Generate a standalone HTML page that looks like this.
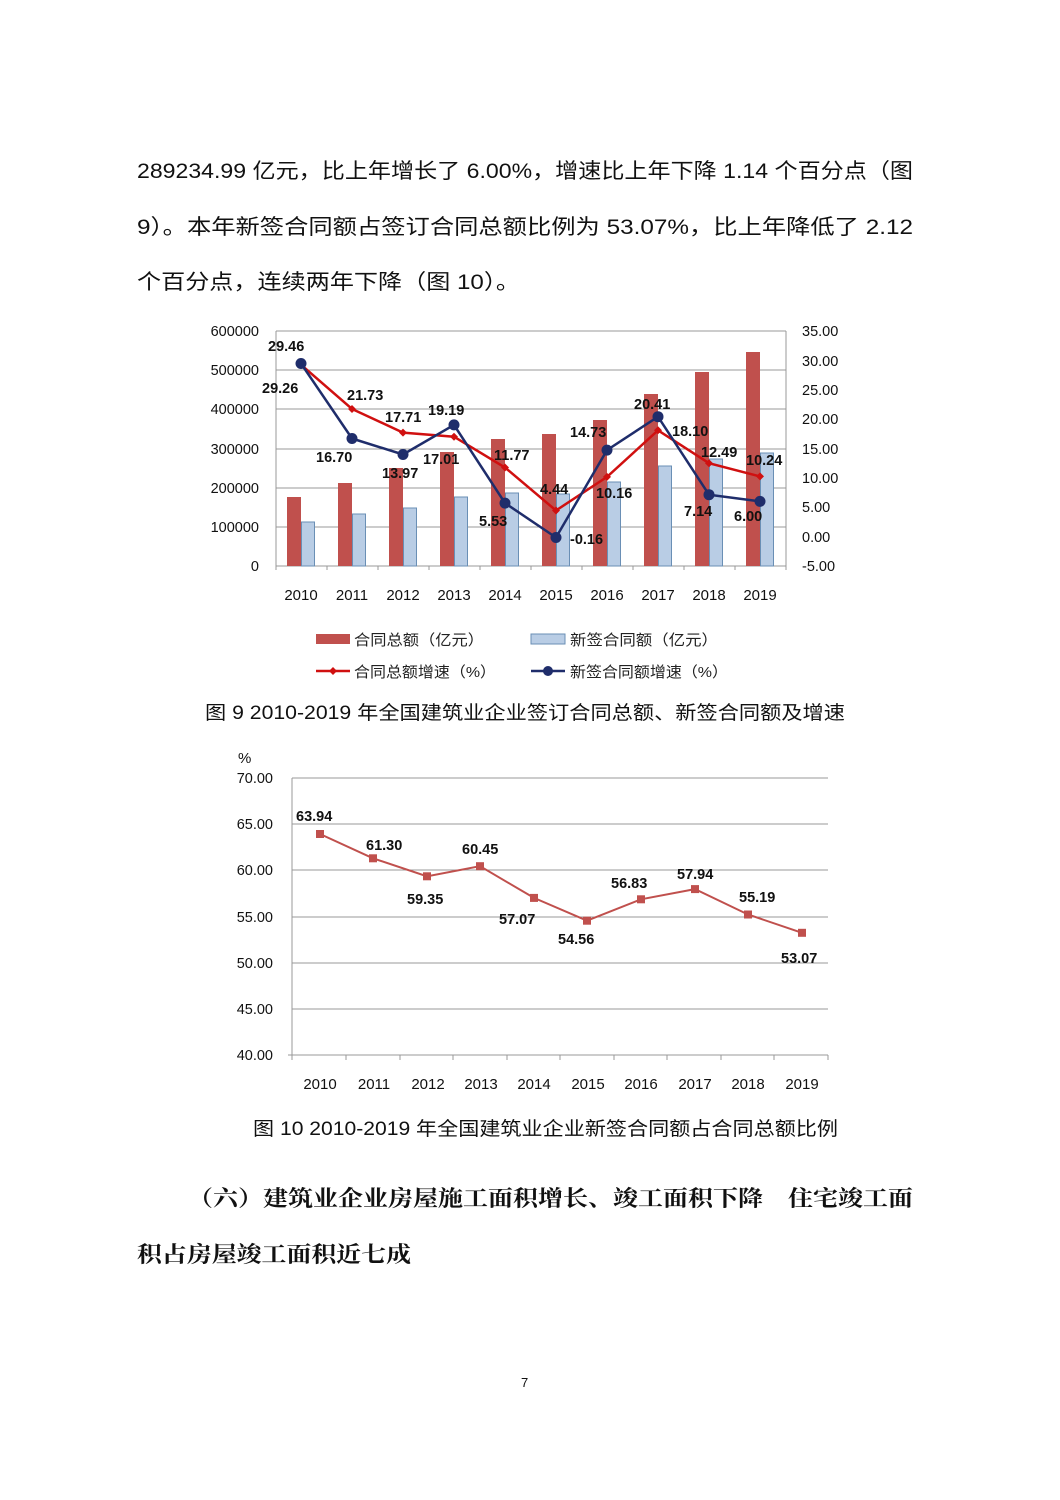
<!DOCTYPE html>
<html><head><meta charset="utf-8"><style>
body{margin:0;background:#fff;}
</style></head><body>
<div style="position:relative;width:1060px;height:1500px;overflow:hidden;">
<svg width="1060" height="1500" style="position:absolute;left:0;top:0" font-family="Liberation Sans, Noto Sans CJK SC, sans-serif">
<g font-size="21" fill="#111">
<text x="137" y="178" textLength="776" lengthAdjust="spacingAndGlyphs">289234.99 亿元，比上年增长了 6.00%，增速比上年下降 1.14 个百分点（图</text>
<text x="137" y="234" textLength="776" lengthAdjust="spacingAndGlyphs">9）。本年新签合同额占签订合同总额比例为 53.07%，比上年降低了 2.12</text>
<text x="137" y="289" textLength="383" lengthAdjust="spacingAndGlyphs">个百分点，连续两年下降（图 10）。</text>
</g>
<g font-size="22" font-weight="bold" fill="#111" font-family="Noto Serif CJK SC, Noto Sans CJK SC, serif">
<text x="188" y="1206" textLength="725" lengthAdjust="spacingAndGlyphs">（六）建筑业企业房屋施工面积增长、竣工面积下降　住宅竣工面</text>
<text x="137" y="1262" textLength="274" lengthAdjust="spacingAndGlyphs">积占房屋竣工面积近七成</text>
</g>
<text x="521" y="1387" font-size="13" fill="#111">7</text>
<g stroke="#999" stroke-width="1">
<line x1="276" y1="331" x2="786" y2="331"/><line x1="276" y1="370" x2="786" y2="370"/><line x1="276" y1="409" x2="786" y2="409"/><line x1="276" y1="449" x2="786" y2="449"/><line x1="276" y1="488" x2="786" y2="488"/><line x1="276" y1="527" x2="786" y2="527"/><line x1="276" y1="566" x2="786" y2="566"/>
<line x1="276" y1="331" x2="276" y2="570"/><line x1="786" y1="331" x2="786" y2="566"/>
</g>
<g font-size="14.5" fill="#111" text-anchor="end">
<text x="259" y="336">600000</text><text x="259" y="375">500000</text><text x="259" y="414">400000</text><text x="259" y="454">300000</text><text x="259" y="493">200000</text><text x="259" y="532">100000</text><text x="259" y="571">0</text>
</g>
<g font-size="14.5" fill="#111">
<text x="802" y="336">35.00</text><text x="802" y="366">30.00</text><text x="802" y="395">25.00</text><text x="802" y="424">20.00</text><text x="802" y="454">15.00</text><text x="802" y="483">10.00</text><text x="802" y="512">5.00</text><text x="802" y="542">0.00</text><text x="802" y="571">-5.00</text>
</g>
<g font-size="15" fill="#111" text-anchor="middle">
<text x="301" y="600">2010</text><text x="352" y="600">2011</text><text x="403" y="600">2012</text><text x="454" y="600">2013</text><text x="505" y="600">2014</text><text x="556" y="600">2015</text><text x="607" y="600">2016</text><text x="658" y="600">2017</text><text x="709" y="600">2018</text><text x="760" y="600">2019</text>
</g>
<g fill="#c0504d">
<rect x="287" y="497" width="14" height="69"/><rect x="338" y="483" width="14" height="83"/><rect x="389" y="468" width="14" height="98"/><rect x="440" y="452" width="14" height="114"/><rect x="491" y="439" width="14" height="127"/><rect x="542" y="434" width="14" height="132"/><rect x="593" y="420" width="14" height="146"/><rect x="644" y="394" width="14" height="172"/><rect x="695" y="372" width="14" height="194"/><rect x="746" y="352" width="14" height="214"/>
</g>
<g fill="#b9cde5" stroke="#6a8fb5" stroke-width="1">
<rect x="301.5" y="522" width="13" height="44"/><rect x="352.5" y="514" width="13" height="52"/><rect x="403.5" y="508" width="13" height="58"/><rect x="454.5" y="497" width="13" height="69"/><rect x="505.5" y="493" width="13" height="73"/><rect x="556.5" y="494" width="13" height="72"/><rect x="607.5" y="482" width="13" height="84"/><rect x="658.5" y="466" width="13" height="100"/><rect x="709.5" y="459" width="13" height="107"/><rect x="760.5" y="453" width="13" height="113"/>
</g>
<g stroke="#999"><line x1="327" y1="566" x2="327" y2="570"/><line x1="378" y1="566" x2="378" y2="570"/><line x1="429" y1="566" x2="429" y2="570"/><line x1="480" y1="566" x2="480" y2="570"/><line x1="531" y1="566" x2="531" y2="570"/><line x1="582" y1="566" x2="582" y2="570"/><line x1="633" y1="566" x2="633" y2="570"/><line x1="684" y1="566" x2="684" y2="570"/><line x1="735" y1="566" x2="735" y2="570"/><line x1="786" y1="566" x2="786" y2="570"/></g>
<polyline fill="none" stroke="#d01010" stroke-width="2.5" points="301,364.7 352,409 403,432.6 454,436.7 505,467.5 556,510.5 607,476.9 658,430.3 709,463.2 760,476.4"/>
<g fill="#d01010">
<path d="M301 360.7l4 4-4 4-4-4z"/><path d="M352 405l4 4-4 4-4-4z"/><path d="M403 428.6l4 4-4 4-4-4z"/><path d="M454 432.7l4 4-4 4-4-4z"/><path d="M505 463.5l4 4-4 4-4-4z"/><path d="M556 506.5l4 4-4 4-4-4z"/><path d="M607 472.9l4 4-4 4-4-4z"/><path d="M658 426.3l4 4-4 4-4-4z"/><path d="M709 459.2l4 4-4 4-4-4z"/><path d="M760 472.4l4 4-4 4-4-4z"/>
</g>
<polyline fill="none" stroke="#1f2d6b" stroke-width="2.5" points="301,363.5 352,438.5 403,454.5 454,424.9 505,503.1 556,537.5 607,450.1 658,416.7 709,494.7 760,501.4"/>
<g fill="#1f2d6b">
<circle cx="301" cy="363.5" r="5.5"/><circle cx="352" cy="438.5" r="5.5"/><circle cx="403" cy="454.5" r="5.5"/><circle cx="454" cy="424.9" r="5.5"/><circle cx="505" cy="503.1" r="5.5"/><circle cx="556" cy="537.5" r="5.5"/><circle cx="607" cy="450.1" r="5.5"/><circle cx="658" cy="416.7" r="5.5"/><circle cx="709" cy="494.7" r="5.5"/><circle cx="760" cy="501.4" r="5.5"/>
</g>
<g font-size="14.5" font-weight="bold" fill="#111">
<text x="268" y="351">29.46</text><text x="262" y="393">29.26</text><text x="347" y="400">21.73</text><text x="316" y="462">16.70</text><text x="385" y="422">17.71</text><text x="428" y="415">19.19</text><text x="382" y="478">13.97</text><text x="423" y="464">17.01</text><text x="494" y="460">11.77</text><text x="479" y="526">5.53</text><text x="540" y="494">4.44</text><text x="570" y="544">-0.16</text><text x="570" y="437">14.73</text><text x="596" y="498">10.16</text><text x="634" y="409">20.41</text><text x="672" y="436">18.10</text><text x="701" y="457">12.49</text><text x="746" y="465">10.24</text><text x="684" y="516">7.14</text><text x="734" y="521">6.00</text>
</g>
<g font-size="15" fill="#222">
<rect x="316" y="634" width="34" height="10" fill="#c0504d"/><text x="354" y="645" textLength="130" lengthAdjust="spacingAndGlyphs">合同总额（亿元）</text>
<rect x="531" y="634" width="34" height="10" fill="#b9cde5" stroke="#6a8fb5"/><text x="570" y="645" textLength="148" lengthAdjust="spacingAndGlyphs">新签合同额（亿元）</text>
<line x1="316" y1="671" x2="350" y2="671" stroke="#d01010" stroke-width="2.5"/><path d="M333 667l4 4-4 4-4-4z" fill="#d01010"/><text x="354" y="677" textLength="142" lengthAdjust="spacingAndGlyphs">合同总额增速（%）</text>
<line x1="531" y1="671" x2="565" y2="671" stroke="#1f2d6b" stroke-width="2.5"/><circle cx="548" cy="671" r="5" fill="#1f2d6b"/><text x="570" y="677" textLength="158" lengthAdjust="spacingAndGlyphs">新签合同额增速（%）</text>
</g>
<text x="205" y="719" font-size="19" fill="#111" textLength="640" lengthAdjust="spacingAndGlyphs">图 9  2010-2019 年全国建筑业企业签订合同总额、新签合同额及增速</text>
<text x="238" y="763" font-size="15" fill="#111">%</text>
<g stroke="#999"><line x1="292" y1="778" x2="828" y2="778"/><line x1="292" y1="824" x2="828" y2="824"/><line x1="292" y1="870" x2="828" y2="870"/><line x1="292" y1="917" x2="828" y2="917"/><line x1="292" y1="963" x2="828" y2="963"/><line x1="292" y1="1009" x2="828" y2="1009"/><line x1="288" y1="1055" x2="828" y2="1055"/><line x1="292" y1="778" x2="292" y2="1055"/>
<line x1="346" y1="1055" x2="346" y2="1060"/><line x1="400" y1="1055" x2="400" y2="1060"/><line x1="453" y1="1055" x2="453" y2="1060"/><line x1="507" y1="1055" x2="507" y2="1060"/><line x1="560" y1="1055" x2="560" y2="1060"/><line x1="614" y1="1055" x2="614" y2="1060"/><line x1="667" y1="1055" x2="667" y2="1060"/><line x1="721" y1="1055" x2="721" y2="1060"/><line x1="774" y1="1055" x2="774" y2="1060"/><line x1="828" y1="1055" x2="828" y2="1060"/><line x1="292" y1="1055" x2="292" y2="1060"/></g>
<g font-size="14.5" fill="#111" text-anchor="end"><text x="273" y="783">70.00</text><text x="273" y="829">65.00</text><text x="273" y="875">60.00</text><text x="273" y="922">55.00</text><text x="273" y="968">50.00</text><text x="273" y="1014">45.00</text><text x="273" y="1060">40.00</text></g>
<g font-size="15" fill="#111" text-anchor="middle"><text x="320" y="1089">2010</text><text x="374" y="1089">2011</text><text x="428" y="1089">2012</text><text x="481" y="1089">2013</text><text x="534" y="1089">2014</text><text x="588" y="1089">2015</text><text x="641" y="1089">2016</text><text x="695" y="1089">2017</text><text x="748" y="1089">2018</text><text x="802" y="1089">2019</text></g>
<polyline fill="none" stroke="#c0504d" stroke-width="2" points="320,834 373,858.3 427,876.3 480,866.2 534,897.9 587,920.7 641,899.3 695,889.1 748,914.5 802,932.8"/>
<g fill="#c0504d"><rect x="316" y="830" width="8" height="8"/><rect x="369" y="854.3" width="8" height="8"/><rect x="423" y="872.3" width="8" height="8"/><rect x="476" y="862.2" width="8" height="8"/><rect x="530" y="893.9" width="8" height="8"/><rect x="583" y="916.7" width="8" height="8"/><rect x="637" y="895.3" width="8" height="8"/><rect x="691" y="885.1" width="8" height="8"/><rect x="744" y="910.5" width="8" height="8"/><rect x="798" y="928.8" width="8" height="8"/></g>
<g font-size="14.5" font-weight="bold" fill="#111"><text x="296" y="821">63.94</text><text x="366" y="850">61.30</text><text x="407" y="904">59.35</text><text x="462" y="854">60.45</text><text x="499" y="924">57.07</text><text x="558" y="944">54.56</text><text x="611" y="888">56.83</text><text x="677" y="879">57.94</text><text x="739" y="902">55.19</text><text x="781" y="963">53.07</text></g>
<text x="253" y="1135" font-size="19" fill="#111" textLength="585" lengthAdjust="spacingAndGlyphs">图 10  2010-2019 年全国建筑业企业新签合同额占合同总额比例</text>
</svg>
</div>
</body></html>
